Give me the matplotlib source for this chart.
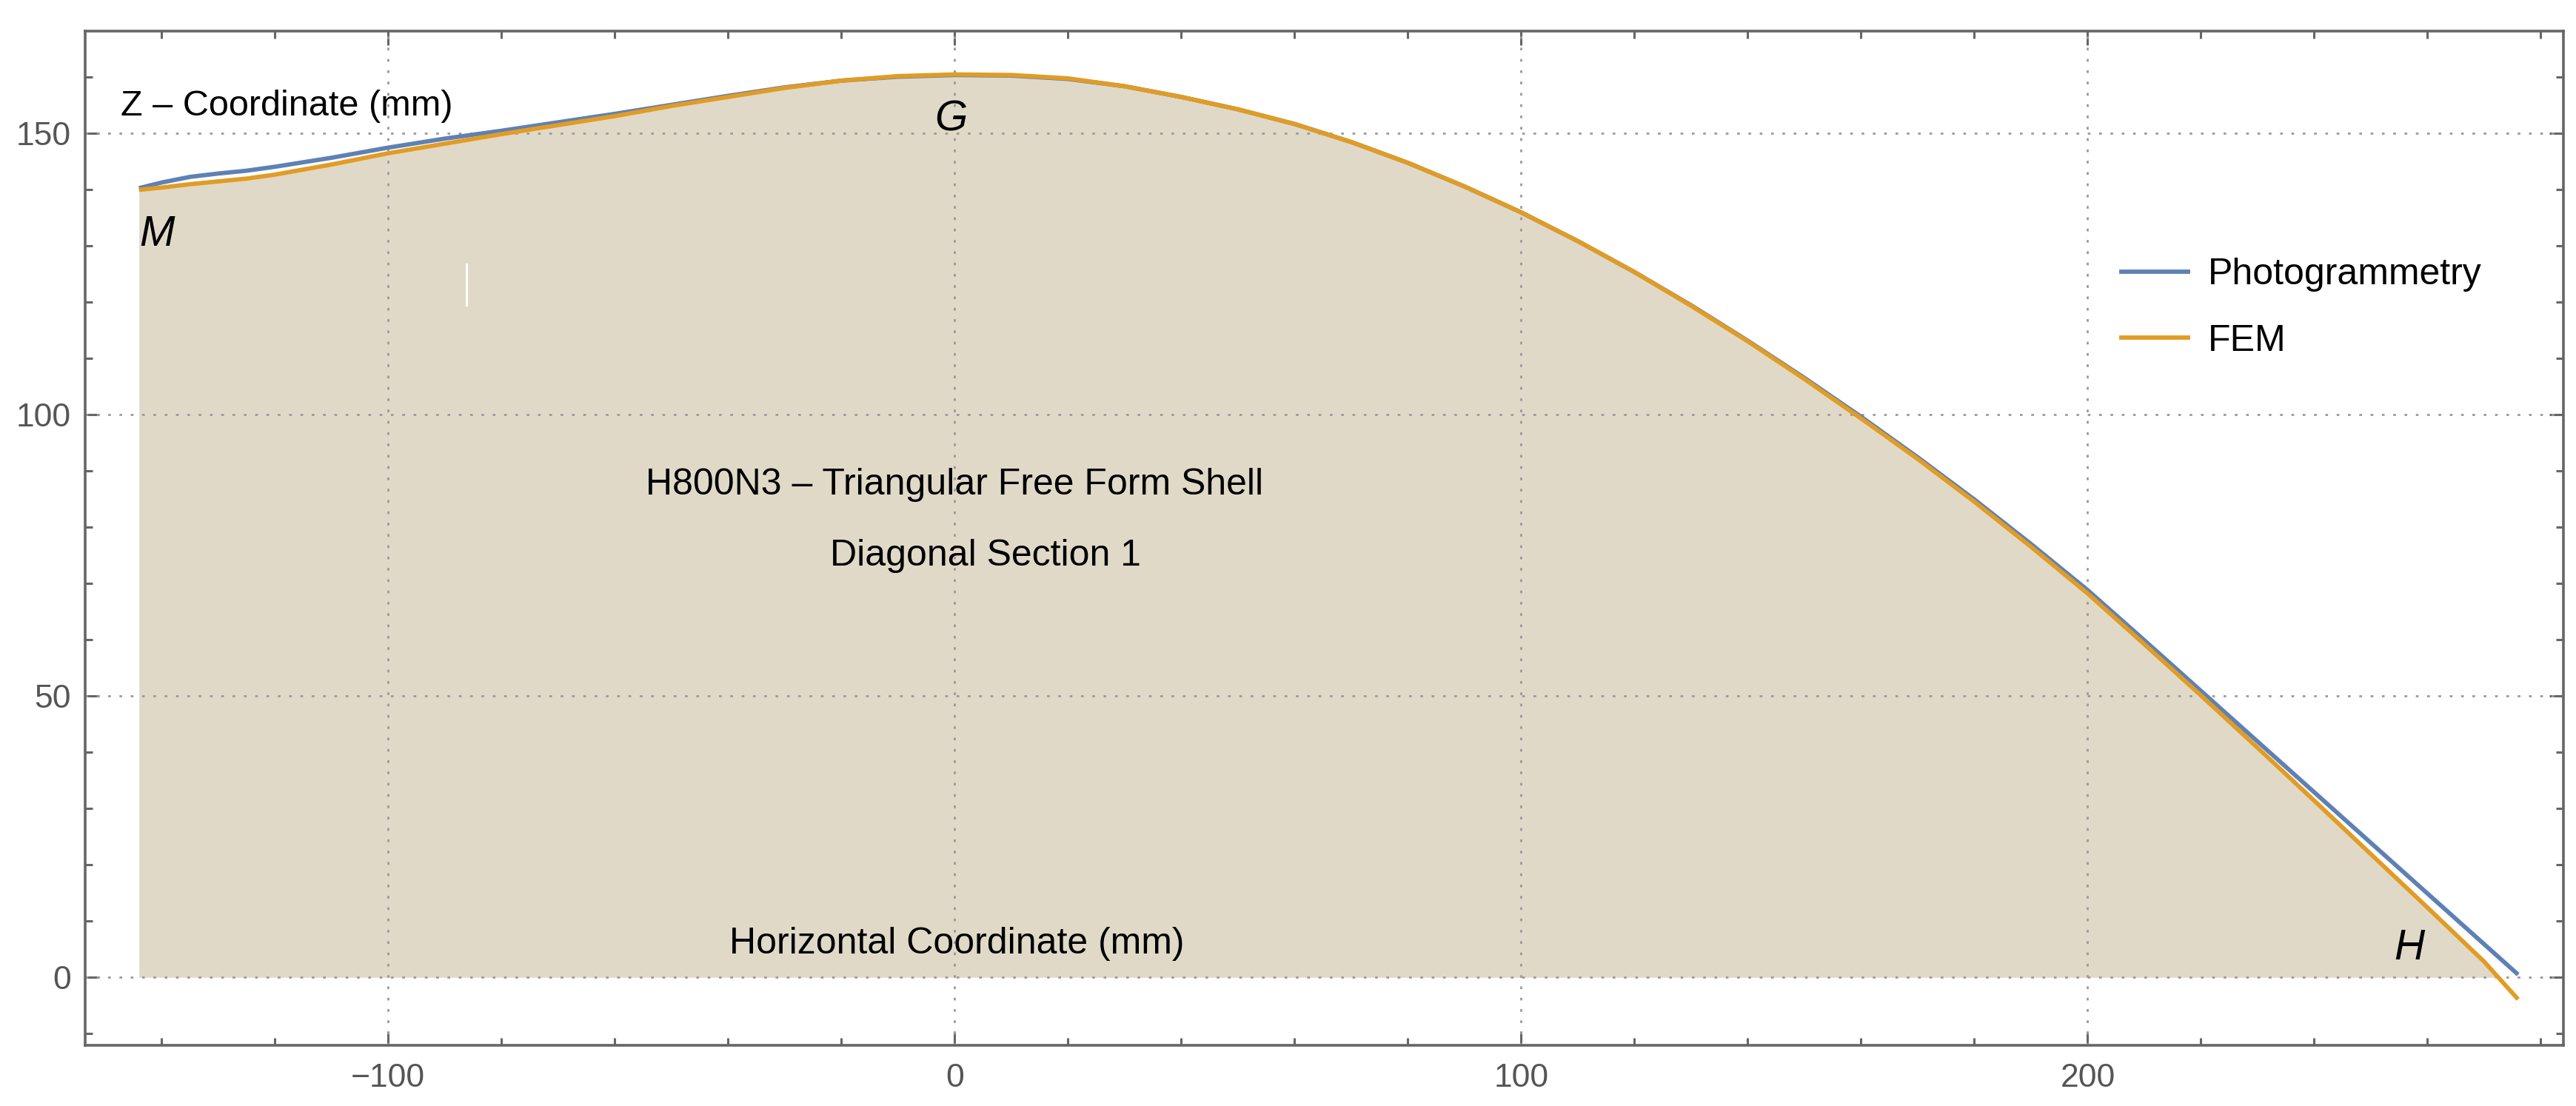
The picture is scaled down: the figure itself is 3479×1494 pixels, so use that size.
import matplotlib
matplotlib.use("Agg")
import matplotlib.pyplot as plt
from matplotlib.ticker import MultipleLocator
from matplotlib.lines import Line2D

plt.rcParams['font.family'] = ['Liberation Sans', 'DejaVu Sans']

# ---- data ----
x_photo = [-144, -140, -135, -130, -125, -120, -110, -100, -90, -80, -70, -60, -50, -40, -30,
           -20, -10, 0, 10, 20, 30, 40, 50, 60, 70, 80, 90, 100, 110, 120, 130, 140, 150,
           160, 170, 180, 190, 200, 210, 220, 230, 240, 250, 260, 270, 276]
z_photo = [140.2, 141.2, 142.2, 142.8, 143.3, 144.0, 145.6, 147.4, 149.0, 150.4, 151.9, 153.4,
           155.0, 156.6, 158.1, 159.3, 160.0, 160.3, 160.2, 159.6, 158.3, 156.4, 154.2, 151.6,
           148.4, 144.7, 140.5, 135.9, 130.8, 125.3, 119.4, 113.1, 106.5, 99.6, 92.4, 84.9,
           77.0, 68.8, 59.9, 50.9, 41.9, 32.9, 23.9, 14.9, 5.9, 0.5]

x_fem = [-144, -140, -135, -130, -125, -120, -110, -100, -90, -80, -70, -60, -50, -40, -30,
         -20, -10, 0, 10, 20, 30, 40, 50, 60, 70, 80, 90, 100, 110, 120, 130, 140, 150,
         160, 170, 180, 190, 200, 210, 220, 230, 240, 250, 260, 270, 276]
z_fem = [139.9, 140.3, 140.9, 141.4, 141.9, 142.6, 144.4, 146.4, 148.1, 149.8, 151.4, 153.0,
         154.8, 156.4, 158.0, 159.3, 160.1, 160.4, 160.3, 159.7, 158.3, 156.4, 154.2, 151.6,
         148.4, 144.7, 140.5, 135.9, 130.8, 125.3, 119.3, 113.0, 106.3, 99.3, 92.1, 84.5,
         76.5, 68.2, 59.2, 50.1, 40.8, 31.4, 21.9, 12.4, 2.8, -3.9]

series_labels = ["Photogrammetry", "FEM"]
x_ticks = [-100, 0, 100, 200]
y_ticks = [0, 50, 100, 150]

point_labels = ["M", "G", "H"]
point_x = [-140.8, -0.7, 256.8]
point_y = [131.9, 152.4, 5.1]

title_lines = ["H800N3 \u2013 Triangular Free Form Shell", "Diagonal Section 1"]

BLUE = "#5E81B5"
ORANGE = "#E19C24"
FILL = "#E1D9C8"
SPINE = "#666666"
GRID = "#9a9a9a"

fig = plt.figure(figsize=(34.8, 14.94), dpi=100)
ax = fig.add_axes([115 / 3480, 1 - 1411.5 / 1494, (3462 - 115) / 3480, (1411.5 - 42) / 1494])

ax.set_xlim(-153.5, 284.0)
ax.set_ylim(-12.0, 168.1)

# fill under FEM curve down to axis
ax.fill_between(x_fem, z_fem, 0, where=[z >= 0 for z in z_fem], interpolate=True,
                color=FILL, lw=0, zorder=1)

# grid
for xv in x_ticks:
    ax.axvline(xv, color=GRID, lw=2, ls=(0, (1.3, 4.2)), zorder=2)
for yv in y_ticks:
    ax.axhline(yv, color=GRID, lw=2, ls=(0, (1.3, 4.2)), zorder=2)

# small white artifact mark
ax.plot([-86.2, -86.2], [119.4, 126.7], color="white", lw=2.2, zorder=2.5)

ax.plot(x_photo, z_photo, color=BLUE, lw=4.2, zorder=3, solid_capstyle='butt',
        solid_joinstyle='round')
ax.plot(x_fem, z_fem, color=ORANGE, lw=4.2, zorder=4, solid_capstyle='butt',
        solid_joinstyle='round')

# ticks
ax.set_xticks(x_ticks)
ax.set_yticks(y_ticks)
ax.xaxis.set_minor_locator(MultipleLocator(20))
ax.yaxis.set_minor_locator(MultipleLocator(10))
ax.tick_params(which='both', direction='in', top=True, right=True, color=SPINE,
               labelcolor="#555555", labelsize=32)
ax.tick_params(which='major', length=14, width=2.2)
ax.tick_params(which='minor', length=7, width=2.2)
ax.tick_params(axis='x', which='major', pad=18)
ax.tick_params(axis='y', which='major', pad=14)
for s in ax.spines.values():
    s.set_color(SPINE)
    s.set_linewidth(2.6)

# axis labels inside the plot
ax.text(-147.2, 154.8, "Z \u2013 Coordinate (mm)", fontsize=35, ha='left', va='center', zorder=5)
ax.text(0.4, 6.0, "Horizontal Coordinate (mm)", fontsize=36, ha='center', va='center', zorder=5)

# title inside the plot
ax.text(0, 87.5, title_lines[0], fontsize=36, ha='center', va='center', zorder=5)
ax.text(5.5, 74.9, title_lines[1], fontsize=36, ha='center', va='center', zorder=5)

# point labels
for lab, px, py in zip(point_labels, point_x, point_y):
    ax.text(px, py, lab, fontsize=41, style='italic', ha='center', va='center', zorder=5)

# legend
handles = [Line2D([], [], color=BLUE, lw=4.2), Line2D([], [], color=ORANGE, lw=4.2)]
ax.legend(handles, series_labels, loc='center left', bbox_to_anchor=(205.9, 118.9),
          bbox_transform=ax.transData, frameon=False, fontsize=36, handlelength=1.8,
          handletextpad=0.54, labelspacing=0.87, borderaxespad=0, borderpad=0)

fig.savefig("out.png", dpi=100, facecolor="white")
